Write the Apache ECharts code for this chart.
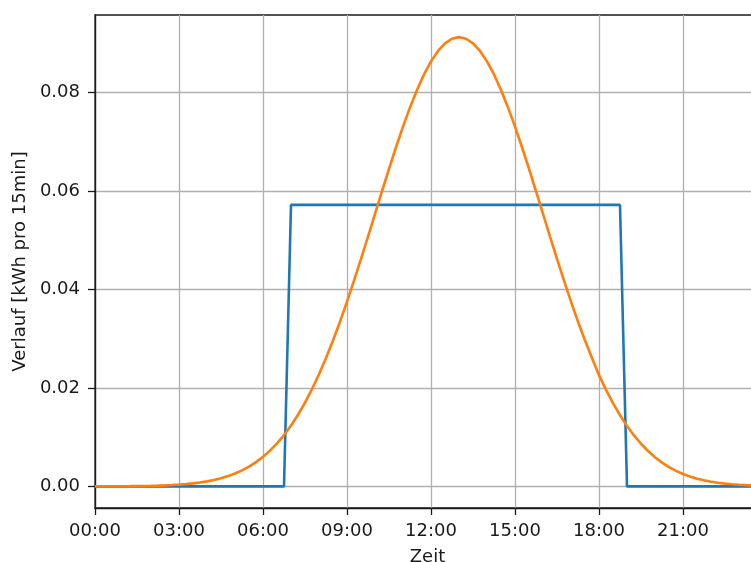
<!DOCTYPE html>
<html>
<head>
<meta charset="utf-8">
<script src="https://cdn.jsdelivr.net/npm/echarts@6/dist/echarts.min.js"></script>
<style>
html,body{margin:0;padding:0;background:#fff;overflow:hidden;}
#c{width:751px;height:562px;}
</style>
</head>
<body>
<div id="c"></div>
<script>
var times = [
"00:00","00:15","00:30","00:45","01:00","01:15","01:30","01:45",
"02:00","02:15","02:30","02:45","03:00","03:15","03:30","03:45",
"04:00","04:15","04:30","04:45","05:00","05:15","05:30","05:45",
"06:00","06:15","06:30","06:45","07:00","07:15","07:30","07:45",
"08:00","08:15","08:30","08:45","09:00","09:15","09:30","09:45",
"10:00","10:15","10:30","10:45","11:00","11:15","11:30","11:45",
"12:00","12:15","12:30","12:45","13:00","13:15","13:30","13:45",
"14:00","14:15","14:30","14:45","15:00","15:15","15:30","15:45",
"16:00","16:15","16:30","16:45","17:00","17:15","17:30","17:45",
"18:00","18:15","18:30","18:45","19:00","19:15","19:30","19:45",
"20:00","20:15","20:30","20:45","21:00","21:15","21:30","21:45",
"22:00","22:15","22:30","22:45","23:00","23:15","23:30","23:45"
];

var blueValues = [
0,0,0,0,0,0,0,0, 0,0,0,0,0,0,0,0, 0,0,0,0,0,0,0,0, 0,0,0,0,
0.0572,0.0572,0.0572,0.0572,0.0572,0.0572,0.0572,0.0572,
0.0572,0.0572,0.0572,0.0572,0.0572,0.0572,0.0572,0.0572,
0.0572,0.0572,0.0572,0.0572,0.0572,0.0572,0.0572,0.0572,
0.0572,0.0572,0.0572,0.0572,0.0572,0.0572,0.0572,0.0572,
0.0572,0.0572,0.0572,0.0572,0.0572,0.0572,0.0572,0.0572,
0.0572,0.0572,0.0572,0.0572,0.0572,0.0572,0.0572,0.0572,
0,0,0,0,0,0,0,0, 0,0,0,0,0,0,0,0, 0,0,0,0
];

var orangeValues = [
0.00001,0.00001,0.00002,0.00002,0.00003,0.00004,0.00006,0.00008,
0.00011,0.00015,0.00020,0.00027,0.00035,0.00046,0.00061,0.00079,
0.00101,0.00130,0.00165,0.00208,0.00261,0.00325,0.00401,0.00492,
0.00600,0.00726,0.00873,0.01042,0.01236,0.01455,0.01701,0.01975,
0.02277,0.02607,0.02964,0.03347,0.03753,0.04180,0.04623,0.05077,
0.05538,0.05998,0.06452,0.06892,0.07311,0.07702,0.08057,0.08371,
0.08637,0.08849,0.09004,0.09098,0.09130,0.09098,0.09004,0.08849,
0.08637,0.08371,0.08057,0.07702,0.07311,0.06892,0.06452,0.05998,
0.05538,0.05077,0.04623,0.04180,0.03753,0.03347,0.02964,0.02607,
0.02260,0.01960,0.01690,0.01445,0.01228,0.01035,0.00866,0.00718,
0.00590,0.00482,0.00390,0.00315,0.00250,0.00198,0.00156,0.00122,
0.00095,0.00073,0.00056,0.00042,0.00032,0.00024,0.00018,0.00013
];

var yTicks = [0, 0.02, 0.04, 0.06, 0.08];
var xTickLabels = ["00:00","03:00","06:00","09:00","12:00","15:00","18:00","21:00"];

var font = "DejaVu Sans";
var chart = echarts.init(document.getElementById('c'), null, {renderer:'canvas'});

function isTick(idx){ return xTickLabels.indexOf(times[idx]) >= 0; }

chart.setOption({
  backgroundColor: '#ffffff',
  animation: false,
  grid: {
    left: 95, top: 15, width: 665, height: 493,
    outerBoundsMode: 'none',
    containLabel: false,
    show: true, borderColor: '#1a1a1a', borderWidth: 1.3, backgroundColor: 'transparent'
  },
  xAxis: {
    type: 'category',
    data: times,
    boundaryGap: false,
    name: 'Zeit',
    nameLocation: 'middle',
    nameGap: 40,
    nameTextStyle: {fontFamily: font, fontSize: 18, color: '#1a1a1a'},
    axisLine: {show: true, onZero: false, lineStyle: {color: '#1a1a1a', width: 1.3}},
    axisTick: {show: true, length: 7, inside: false, interval: function(i){return isTick(i);}, lineStyle: {color: '#1a1a1a', width: 1.3}},
    axisLabel: {interval: function(i){return isTick(i);}, margin: 14, fontFamily: font, fontSize: 18, color: '#1a1a1a'},
    splitLine: {show: true, interval: function(i){return isTick(i);}, lineStyle: {color: '#b0b0b0', width: 1.3}}
  },
  yAxis: {
    type: 'value',
    min: -0.0044,
    max: 0.0958,
    name: 'Verlauf [kWh pro 15min]',
    nameLocation: 'middle',
    nameGap: 60,
    nameTextStyle: {fontFamily: font, fontSize: 18, color: '#1a1a1a'},
    axisLine: {show: true, onZero: false, lineStyle: {color: '#1a1a1a', width: 1.3}},
    axisTick: {show: true, length: 7, inside: false, customValues: yTicks, lineStyle: {color: '#1a1a1a', width: 1.3}},
    axisLabel: {customValues: yTicks, margin: 15, fontFamily: font, fontSize: 18, color: '#1a1a1a',
      formatter: function(v){ return v.toFixed(2); }},
    splitLine: {show: true, lineStyle: {color: '#b0b0b0', width: 1.3}}
  },
  series: [
    {type: 'line', data: blueValues, showSymbol: false, symbol: 'none',
     lineStyle: {color: '#1f77b4', width: 2.6}, itemStyle: {color: '#1f77b4'}, z: 3},
    {type: 'line', data: orangeValues, showSymbol: false, symbol: 'none',
     lineStyle: {color: '#ff7f0e', width: 2.6}, itemStyle: {color: '#ff7f0e'}, z: 4}
  ]
});
</script>
</body>
</html>
